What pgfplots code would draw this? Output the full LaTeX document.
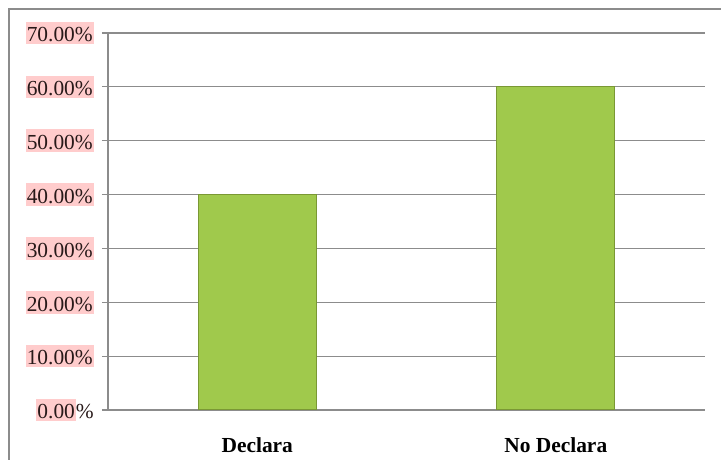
\documentclass[border=0pt]{standalone}
\usepackage{pgfplots}
\pgfplotsset{compat=1.18}
\usepackage{fontspec}
\setmainfont{Liberation Serif}
\definecolor{gridgray}{RGB}{140,140,140}
\definecolor{pinkhl}{RGB}{255,204,204}
\definecolor{labeltext}{RGB}{40,25,25}
\definecolor{barfill}{RGB}{160,201,76}
\definecolor{baredge}{RGB}{122,152,52}
\newcommand\hl[1]{{\setlength\fboxsep{0pt}\colorbox{pinkhl}{\kern1bp\rule[-2.5bp]{0pt}{22.5bp}#1\kern1bp}}}
\begin{document}
\begin{tikzpicture}[x=1bp,y=1bp]
\useasboundingbox (-108,-50) rectangle (613,410);
% outer chart frame
\draw[gridgray, line width=1.2bp] (-99,-50) -- (-99,401) -- (613,401);
\begin{axis}[
  at={(0,0)}, anchor=south west,
  scale only axis,
  width=597bp, height=377bp,
  xmin=-0.5, xmax=1.5,
  ymin=0, ymax=70,
  axis x line=bottom, axis y line=left,
  axis line style={-, gridgray, line width=1.2bp},
  ytick={0,10,...,70},
  yticklabels={\hl{0.00}\%,\hl{10.00\%},\hl{20.00\%},\hl{30.00\%},\hl{40.00\%},\hl{50.00\%},\hl{60.00\%},\hl{70.00\%}},
  ymajorgrids,
  grid style={gridgray, line width=1.2bp},
  tick align=outside,
  major tick length=6bp,
  tick style={gridgray, line width=1.2bp},
  xtick={0,1},
  xticklabels={Declara,No Declara},
  x tick style={draw=none},
  extra x ticks={-0.5,0.5,1.5},
  extra x tick labels={},
  extra x tick style={grid=none, tick style={draw=gridgray, line width=1.2bp}},
  tick label style={font=\fontsize{21.5}{24}\selectfont, text=labeltext},
  xticklabel style={font=\fontsize{21.5}{24}\selectfont\bfseries, text=black, anchor=base, yshift=-37bp},
  yticklabel style={anchor=east, inner sep=0pt, xshift=-8bp},
  ybar, bar width=118bp,
]
\addplot[fill=barfill, draw=baredge, line width=1bp] coordinates {(0,40) (1,60)};
\end{axis}
\end{tikzpicture}
\end{document}
